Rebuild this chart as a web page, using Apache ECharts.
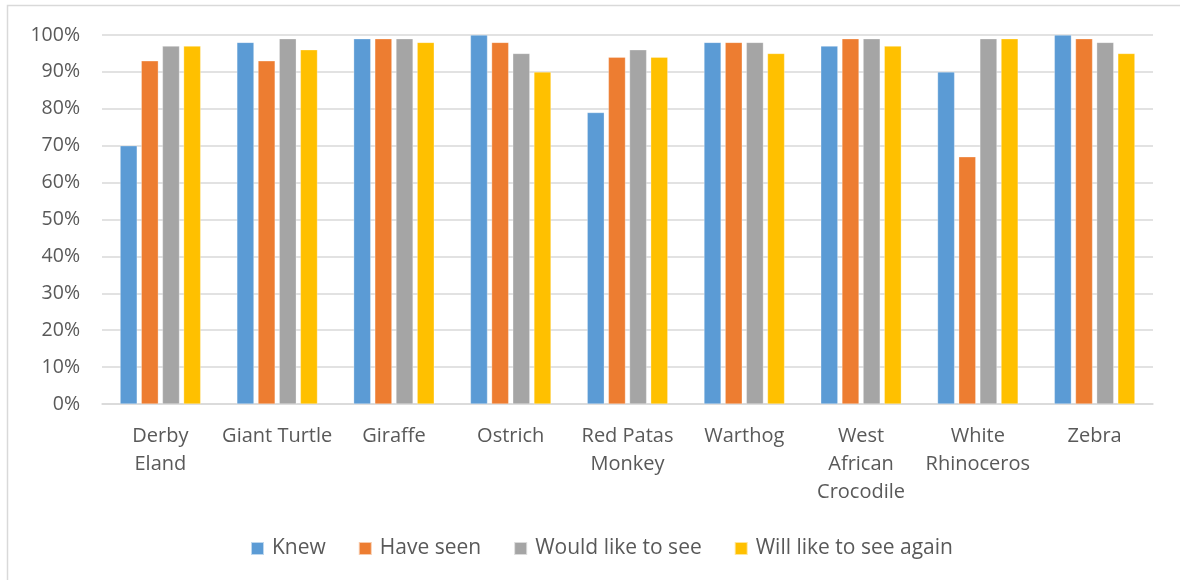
<!DOCTYPE html>
<html><head><meta charset="utf-8">
<script src="https://cdn.jsdelivr.net/npm/echarts@6/dist/echarts.min.js"></script>
<style>html,body{margin:0;padding:0;background:#fff}#c{width:1180px;height:580px}</style>
</head><body><div id="c"></div>
<script>
const categories = ["Derby\nEland","Giant Turtle","Giraffe","Ostrich","Red Patas\nMonkey","Warthog","West\nAfrican\nCrocodile","White\nRhinoceros","Zebra"];
const knew = [70,98,99,100,79,98,97,90,100];
const haveSeen = [93,93,99,98,94,98,99,67,99];
const wouldLike = [97,99,99,95,96,98,99,99,98];
const willAgain = [97,96,98,90,94,95,97,99,95];
const seriesNames = ["Knew","Have seen","Would like to see","Will like to see again"];
const colors = ["#5b9bd5","#ed7d31","#a5a5a5","#ffc000"];
const font = "Open Sans";
const chart = echarts.init(document.getElementById('c'));
const data = [knew, haveSeen, wouldLike, willAgain];
chart.setOption({
  animation:false,
  color: colors,
  graphic:[{type:'rect',shape:{x:7.5,y:5.5,width:1200,height:600},style:{fill:'none',stroke:'#d9d9d9',lineWidth:1.5},silent:true}],
  grid:{left:102,right:27,top:35,bottom:176},
  legend:{top:533,left:245,itemWidth:13,itemHeight:13,itemGap:32,icon:'rect',
    textStyle:{fontFamily:font,fontSize:21,color:'#595959',padding:[0,0,0,3]},data:seriesNames},
  xAxis:{type:'category',data:categories,
    axisLine:{lineStyle:{color:'#d9d9d9',width:1.5}},axisTick:{show:false},
    axisLabel:{fontFamily:font,fontSize:20,color:'#595959',lineHeight:28,margin:18,interval:0}},
  yAxis:{type:'value',min:0,max:100,interval:10,
    axisLabel:{formatter:'{value}%',fontFamily:font,fontSize:19.5,color:'#595959',margin:22},
    axisLine:{show:false},axisTick:{show:false},
    splitLine:{lineStyle:{color:'#d9d9d9',width:1.5}}},
  series: data.map((d,i)=>({name:seriesNames[i],type:'bar',data:d,barGap:'24%',barCategoryGap:'31%',
    itemStyle:{borderColor:'rgba(255,255,255,0.6)',borderWidth:0.5}}))
});
</script></body></html>
